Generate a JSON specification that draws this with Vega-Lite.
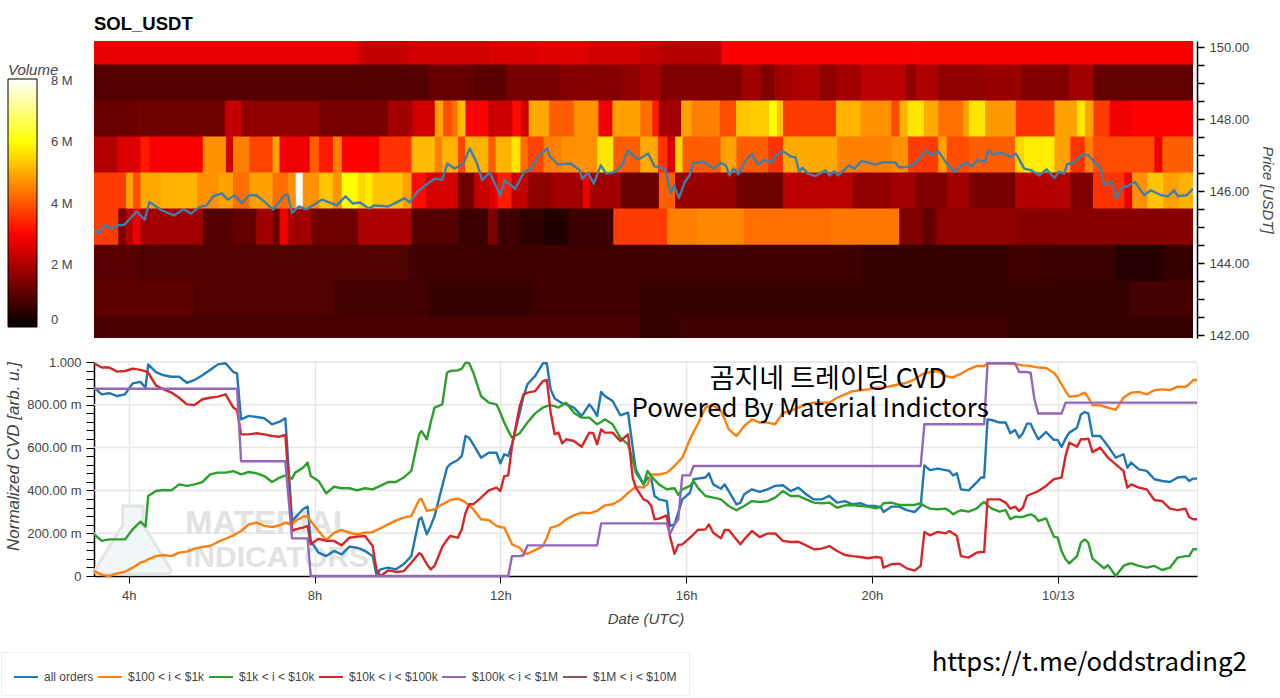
{
"$schema":"https://vega.github.io/schema/vega-lite/v6.json",
"background":"white",
"padding":{"left":0,"top":14,"right":2,"bottom":0},
"autosize":{"type":"pad"},
"config":{"font":"Liberation Sans","view":{"stroke":null}},
"datasets":{
"cells":[
{"h":3.25,"e":8.96,"p":149.5,"hi":150.17,"vol":2700000},{"h":8.96,"e":10,"p":149.5,"hi":150.17,"vol":2300000},{"h":10,"e":11.77,"p":149.5,"hi":150.17,"vol":2450000},{"h":11.77,"e":12.82,"p":149.5,"hi":150.17,"vol":2550000},{"h":12.82,"e":13.88,"p":149.5,"hi":150.17,"vol":2650000},{"h":13.88,"e":15,"p":149.5,"hi":150.17,"vol":2450000},{"h":15,"e":15.44,"p":149.5,"hi":150.17,"vol":2300000},{"h":15.44,"e":16.75,"p":149.5,"hi":150.17,"vol":2150000},{"h":16.75,"e":21,"p":149.5,"hi":150.17,"vol":2950000},{"h":21,"e":26.89,"p":149.5,"hi":150.17,"vol":2900000},
{"h":3.25,"e":10.45,"p":148.5,"hi":149.5,"vol":1000000},{"h":10.45,"e":11.42,"p":148.5,"hi":149.5,"vol":1200000},{"h":11.42,"e":12.12,"p":148.5,"hi":149.5,"vol":1050000},{"h":12.12,"e":13.26,"p":148.5,"hi":149.5,"vol":1400000},{"h":13.26,"e":14.58,"p":148.5,"hi":149.5,"vol":1550000},{"h":14.58,"e":15,"p":148.5,"hi":149.5,"vol":1700000},{"h":15,"e":15.44,"p":148.5,"hi":149.5,"vol":1900000},{"h":15.44,"e":17.19,"p":148.5,"hi":149.5,"vol":1500000},{"h":17.19,"e":17.59,"p":148.5,"hi":149.5,"vol":1900000},{"h":17.59,"e":17.9,"p":148.5,"hi":149.5,"vol":1500000},{"h":17.9,"e":18.25,"p":148.5,"hi":149.5,"vol":1900000},{"h":18.25,"e":18.86,"p":148.5,"hi":149.5,"vol":2050000},{"h":18.86,"e":19.21,"p":148.5,"hi":149.5,"vol":1700000},{"h":19.21,"e":19.74,"p":148.5,"hi":149.5,"vol":1900000},{"h":19.74,"e":20.71,"p":148.5,"hi":149.5,"vol":2200000},{"h":20.71,"e":20.93,"p":148.5,"hi":149.5,"vol":1700000},{"h":20.93,"e":21.41,"p":148.5,"hi":149.5,"vol":2050000},{"h":21.41,"e":22.37,"p":148.5,"hi":149.5,"vol":1700000},{"h":22.37,"e":23.21,"p":148.5,"hi":149.5,"vol":1800000},{"h":23.21,"e":24.22,"p":148.5,"hi":149.5,"vol":1500000},{"h":24.22,"e":24.75,"p":148.5,"hi":149.5,"vol":1900000},{"h":24.75,"e":26.89,"p":148.5,"hi":149.5,"vol":1150000},
{"h":3.25,"e":4.22,"p":147.5,"hi":148.5,"vol":1250000},{"h":4.22,"e":6.06,"p":147.5,"hi":148.5,"vol":1300000},{"h":6.06,"e":6.41,"p":147.5,"hi":148.5,"vol":2300000},{"h":6.41,"e":8.08,"p":147.5,"hi":148.5,"vol":1700000},{"h":8.08,"e":9.57,"p":147.5,"hi":148.5,"vol":1400000},{"h":9.57,"e":10.1,"p":147.5,"hi":148.5,"vol":1900000},{"h":10.1,"e":10.58,"p":147.5,"hi":148.5,"vol":2450000},{"h":10.58,"e":10.76,"p":147.5,"hi":148.5,"vol":4900000},{"h":10.76,"e":10.94,"p":147.5,"hi":148.5,"vol":3900000},{"h":10.94,"e":11.07,"p":147.5,"hi":148.5,"vol":4300000},{"h":11.07,"e":11.24,"p":147.5,"hi":148.5,"vol":5200000},{"h":11.24,"e":11.73,"p":147.5,"hi":148.5,"vol":3000000},{"h":11.73,"e":12.25,"p":147.5,"hi":148.5,"vol":2400000},{"h":12.25,"e":12.43,"p":147.5,"hi":148.5,"vol":3100000},{"h":12.43,"e":12.6,"p":147.5,"hi":148.5,"vol":2400000},{"h":12.6,"e":13.04,"p":147.5,"hi":148.5,"vol":5000000},{"h":13.04,"e":13.57,"p":147.5,"hi":148.5,"vol":4100000},{"h":13.57,"e":14.1,"p":147.5,"hi":148.5,"vol":4700000},{"h":14.1,"e":14.4,"p":147.5,"hi":148.5,"vol":2800000},{"h":14.4,"e":15,"p":147.5,"hi":148.5,"vol":4900000},{"h":15,"e":15.26,"p":147.5,"hi":148.5,"vol":4300000},{"h":15.26,"e":15.4,"p":147.5,"hi":148.5,"vol":3300000},{"h":15.4,"e":15.88,"p":147.5,"hi":148.5,"vol":1900000},{"h":15.88,"e":16.1,"p":147.5,"hi":148.5,"vol":4900000},{"h":16.1,"e":16.71,"p":147.5,"hi":148.5,"vol":4500000},{"h":16.71,"e":17.06,"p":147.5,"hi":148.5,"vol":3900000},{"h":17.06,"e":17.37,"p":147.5,"hi":148.5,"vol":5300000},{"h":17.37,"e":17.77,"p":147.5,"hi":148.5,"vol":5400000},{"h":17.77,"e":17.94,"p":147.5,"hi":148.5,"vol":6000000},{"h":17.94,"e":18.07,"p":147.5,"hi":148.5,"vol":5300000},{"h":18.07,"e":19.21,"p":147.5,"hi":148.5,"vol":3700000},{"h":19.21,"e":19.74,"p":147.5,"hi":148.5,"vol":5100000},{"h":19.74,"e":20.4,"p":147.5,"hi":148.5,"vol":4700000},{"h":20.4,"e":20.58,"p":147.5,"hi":148.5,"vol":3900000},{"h":20.58,"e":20.75,"p":147.5,"hi":148.5,"vol":5100000},{"h":20.75,"e":21.1,"p":147.5,"hi":148.5,"vol":5700000},{"h":21.1,"e":21.41,"p":147.5,"hi":148.5,"vol":5000000},{"h":21.41,"e":21.94,"p":147.5,"hi":148.5,"vol":4300000},{"h":21.94,"e":22.07,"p":147.5,"hi":148.5,"vol":4900000},{"h":22.07,"e":22.42,"p":147.5,"hi":148.5,"vol":5700000},{"h":22.42,"e":23.08,"p":147.5,"hi":148.5,"vol":4800000},{"h":23.08,"e":23.91,"p":147.5,"hi":148.5,"vol":3600000},{"h":23.91,"e":24.39,"p":147.5,"hi":148.5,"vol":4900000},{"h":24.39,"e":24.57,"p":147.5,"hi":148.5,"vol":5700000},{"h":24.57,"e":24.75,"p":147.5,"hi":148.5,"vol":4900000},{"h":24.75,"e":25.1,"p":147.5,"hi":148.5,"vol":3700000},{"h":25.1,"e":25.58,"p":147.5,"hi":148.5,"vol":2800000},{"h":25.58,"e":26.89,"p":147.5,"hi":148.5,"vol":3000000},
{"h":3.25,"e":3.75,"p":146.5,"hi":147.5,"vol":2100000},{"h":3.75,"e":4.25,"p":146.5,"hi":147.5,"vol":2600000},{"h":4.25,"e":4.44,"p":146.5,"hi":147.5,"vol":3300000},{"h":4.44,"e":5.59,"p":146.5,"hi":147.5,"vol":2950000},{"h":5.59,"e":6.09,"p":146.5,"hi":147.5,"vol":4700000},{"h":6.09,"e":6.24,"p":146.5,"hi":147.5,"vol":2450000},{"h":6.24,"e":6.59,"p":146.5,"hi":147.5,"vol":4500000},{"h":6.59,"e":7.09,"p":146.5,"hi":147.5,"vol":3800000},{"h":7.09,"e":7.24,"p":146.5,"hi":147.5,"vol":4900000},{"h":7.24,"e":7.89,"p":146.5,"hi":147.5,"vol":2800000},{"h":7.89,"e":8.09,"p":146.5,"hi":147.5,"vol":4100000},{"h":8.09,"e":8.39,"p":146.5,"hi":147.5,"vol":3300000},{"h":8.39,"e":8.58,"p":146.5,"hi":147.5,"vol":4500000},{"h":8.58,"e":9.39,"p":146.5,"hi":147.5,"vol":3000000},{"h":9.39,"e":10.08,"p":146.5,"hi":147.5,"vol":3600000},{"h":10.08,"e":10.58,"p":146.5,"hi":147.5,"vol":5200000},{"h":10.58,"e":10.74,"p":146.5,"hi":147.5,"vol":4500000},{"h":10.74,"e":11.08,"p":146.5,"hi":147.5,"vol":5100000},{"h":11.08,"e":11.23,"p":146.5,"hi":147.5,"vol":3800000},{"h":11.23,"e":11.73,"p":146.5,"hi":147.5,"vol":5100000},{"h":11.73,"e":11.89,"p":146.5,"hi":147.5,"vol":4100000},{"h":11.89,"e":12.23,"p":146.5,"hi":147.5,"vol":5100000},{"h":12.23,"e":12.42,"p":146.5,"hi":147.5,"vol":5700000},{"h":12.42,"e":12.58,"p":146.5,"hi":147.5,"vol":4300000},{"h":12.58,"e":12.92,"p":146.5,"hi":147.5,"vol":3800000},{"h":12.92,"e":13.31,"p":146.5,"hi":147.5,"vol":4500000},{"h":13.31,"e":14.08,"p":146.5,"hi":147.5,"vol":4700000},{"h":14.08,"e":14.42,"p":146.5,"hi":147.5,"vol":5700000},{"h":14.42,"e":15,"p":146.5,"hi":147.5,"vol":4100000},{"h":15,"e":15.38,"p":146.5,"hi":147.5,"vol":5000000},{"h":15.38,"e":15.58,"p":146.5,"hi":147.5,"vol":3600000},{"h":15.58,"e":15.75,"p":146.5,"hi":147.5,"vol":2600000},{"h":15.75,"e":15.91,"p":146.5,"hi":147.5,"vol":5500000},{"h":15.91,"e":16.73,"p":146.5,"hi":147.5,"vol":4100000},{"h":16.73,"e":17.07,"p":146.5,"hi":147.5,"vol":4900000},{"h":17.07,"e":17.75,"p":146.5,"hi":147.5,"vol":4100000},{"h":17.75,"e":18.07,"p":146.5,"hi":147.5,"vol":3600000},{"h":18.07,"e":19.24,"p":146.5,"hi":147.5,"vol":5000000},{"h":19.24,"e":20.41,"p":146.5,"hi":147.5,"vol":4500000},{"h":20.41,"e":20.76,"p":146.5,"hi":147.5,"vol":4700000},{"h":20.76,"e":21.41,"p":146.5,"hi":147.5,"vol":3700000},{"h":21.41,"e":21.59,"p":146.5,"hi":147.5,"vol":4900000},{"h":21.59,"e":22.07,"p":146.5,"hi":147.5,"vol":3900000},{"h":22.07,"e":23.06,"p":146.5,"hi":147.5,"vol":4100000},{"h":23.06,"e":23.26,"p":146.5,"hi":147.5,"vol":5500000},{"h":23.26,"e":23.91,"p":146.5,"hi":147.5,"vol":5800000},{"h":23.91,"e":24.25,"p":146.5,"hi":147.5,"vol":4900000},{"h":24.25,"e":24.56,"p":146.5,"hi":147.5,"vol":3600000},{"h":24.56,"e":24.74,"p":146.5,"hi":147.5,"vol":4500000},{"h":24.74,"e":26.06,"p":146.5,"hi":147.5,"vol":3900000},{"h":26.06,"e":26.23,"p":146.5,"hi":147.5,"vol":2800000},{"h":26.23,"e":26.89,"p":146.5,"hi":147.5,"vol":4100000},
{"h":3.25,"e":3.94,"p":145.5,"hi":146.5,"vol":3700000},{"h":3.94,"e":4.09,"p":145.5,"hi":146.5,"vol":4900000},{"h":4.09,"e":4.25,"p":145.5,"hi":146.5,"vol":3900000},{"h":4.25,"e":4.71,"p":145.5,"hi":146.5,"vol":5000000},{"h":4.71,"e":5.47,"p":145.5,"hi":146.5,"vol":5100000},{"h":5.47,"e":5.93,"p":145.5,"hi":146.5,"vol":4700000},{"h":5.93,"e":6.24,"p":145.5,"hi":146.5,"vol":4900000},{"h":6.24,"e":6.59,"p":145.5,"hi":146.5,"vol":4300000},{"h":6.59,"e":7.09,"p":145.5,"hi":146.5,"vol":4900000},{"h":7.09,"e":7.43,"p":145.5,"hi":146.5,"vol":4300000},{"h":7.43,"e":7.59,"p":145.5,"hi":146.5,"vol":4700000},{"h":7.59,"e":7.74,"p":145.5,"hi":146.5,"vol":8050000},{"h":7.74,"e":8.09,"p":145.5,"hi":146.5,"vol":4700000},{"h":8.09,"e":8.39,"p":145.5,"hi":146.5,"vol":5300000},{"h":8.39,"e":8.58,"p":145.5,"hi":146.5,"vol":4700000},{"h":8.58,"e":8.93,"p":145.5,"hi":146.5,"vol":6000000},{"h":8.93,"e":9.08,"p":145.5,"hi":146.5,"vol":5500000},{"h":9.08,"e":9.24,"p":145.5,"hi":146.5,"vol":5800000},{"h":9.24,"e":9.89,"p":145.5,"hi":146.5,"vol":5300000},{"h":9.89,"e":10.08,"p":145.5,"hi":146.5,"vol":4900000},{"h":10.08,"e":10.39,"p":145.5,"hi":146.5,"vol":3100000},{"h":10.39,"e":11.08,"p":145.5,"hi":146.5,"vol":2500000},{"h":11.08,"e":11.43,"p":145.5,"hi":146.5,"vol":1300000},{"h":11.43,"e":11.77,"p":145.5,"hi":146.5,"vol":2350000},{"h":11.77,"e":11.93,"p":145.5,"hi":146.5,"vol":2600000},{"h":11.93,"e":12.23,"p":145.5,"hi":146.5,"vol":3300000},{"h":12.23,"e":12.58,"p":145.5,"hi":146.5,"vol":2300000},{"h":12.58,"e":13.08,"p":145.5,"hi":146.5,"vol":1700000},{"h":13.08,"e":13.77,"p":145.5,"hi":146.5,"vol":1900000},{"h":13.77,"e":13.92,"p":145.5,"hi":146.5,"vol":2800000},{"h":13.92,"e":14.58,"p":145.5,"hi":146.5,"vol":1900000},{"h":14.58,"e":15.4,"p":145.5,"hi":146.5,"vol":1250000},{"h":15.4,"e":15.75,"p":145.5,"hi":146.5,"vol":4100000},{"h":15.75,"e":17.07,"p":145.5,"hi":146.5,"vol":1800000},{"h":17.07,"e":18.07,"p":145.5,"hi":146.5,"vol":1300000},{"h":18.07,"e":19.57,"p":145.5,"hi":146.5,"vol":2200000},{"h":19.57,"e":20.38,"p":145.5,"hi":146.5,"vol":1700000},{"h":20.38,"e":20.91,"p":145.5,"hi":146.5,"vol":1900000},{"h":20.91,"e":21.59,"p":145.5,"hi":146.5,"vol":1500000},{"h":21.59,"e":22.07,"p":145.5,"hi":146.5,"vol":1900000},{"h":22.07,"e":23.06,"p":145.5,"hi":146.5,"vol":1400000},{"h":23.06,"e":24.25,"p":145.5,"hi":146.5,"vol":2100000},{"h":24.25,"e":24.74,"p":145.5,"hi":146.5,"vol":1500000},{"h":24.74,"e":25.41,"p":145.5,"hi":146.5,"vol":3600000},{"h":25.41,"e":25.58,"p":145.5,"hi":146.5,"vol":2800000},{"h":25.58,"e":25.91,"p":145.5,"hi":146.5,"vol":4700000},{"h":25.91,"e":26.25,"p":145.5,"hi":146.5,"vol":5300000},{"h":26.25,"e":26.6,"p":145.5,"hi":146.5,"vol":4900000},{"h":26.6,"e":26.89,"p":145.5,"hi":146.5,"vol":5100000},
{"h":3.25,"e":3.77,"p":144.5,"hi":145.5,"vol":3700000},{"h":3.77,"e":3.94,"p":144.5,"hi":145.5,"vol":1500000},{"h":3.94,"e":4.09,"p":144.5,"hi":145.5,"vol":2100000},{"h":4.09,"e":4.25,"p":144.5,"hi":145.5,"vol":2800000},{"h":4.25,"e":5.59,"p":144.5,"hi":145.5,"vol":1900000},{"h":5.59,"e":6.24,"p":144.5,"hi":145.5,"vol":1000000},{"h":6.24,"e":6.74,"p":144.5,"hi":145.5,"vol":1150000},{"h":6.74,"e":7.09,"p":144.5,"hi":145.5,"vol":1900000},{"h":7.09,"e":7.24,"p":144.5,"hi":145.5,"vol":1300000},{"h":7.24,"e":7.43,"p":144.5,"hi":145.5,"vol":2800000},{"h":7.43,"e":7.93,"p":144.5,"hi":145.5,"vol":1900000},{"h":7.93,"e":8.93,"p":144.5,"hi":145.5,"vol":1300000},{"h":8.93,"e":10.08,"p":144.5,"hi":145.5,"vol":2000000},{"h":10.08,"e":11.08,"p":144.5,"hi":145.5,"vol":1000000},{"h":11.08,"e":11.73,"p":144.5,"hi":145.5,"vol":700000},{"h":11.73,"e":11.93,"p":144.5,"hi":145.5,"vol":1500000},{"h":11.93,"e":12.42,"p":144.5,"hi":145.5,"vol":750000},{"h":12.42,"e":12.92,"p":144.5,"hi":145.5,"vol":550000},{"h":12.92,"e":13.46,"p":144.5,"hi":145.5,"vol":400000},{"h":13.46,"e":14.42,"p":144.5,"hi":145.5,"vol":700000},{"h":14.42,"e":15.58,"p":144.5,"hi":145.5,"vol":3700000},{"h":15.58,"e":16.23,"p":144.5,"hi":145.5,"vol":4500000},{"h":16.23,"e":17.23,"p":144.5,"hi":145.5,"vol":4600000},{"h":17.23,"e":19.07,"p":144.5,"hi":145.5,"vol":4300000},{"h":19.07,"e":20.57,"p":144.5,"hi":145.5,"vol":4400000},{"h":20.57,"e":21.07,"p":144.5,"hi":145.5,"vol":1500000},{"h":21.07,"e":21.37,"p":144.5,"hi":145.5,"vol":1150000},{"h":21.37,"e":23.06,"p":144.5,"hi":145.5,"vol":1700000},{"h":23.06,"e":26.89,"p":144.5,"hi":145.5,"vol":1600000},
{"h":3.25,"e":4.22,"p":143.5,"hi":144.5,"vol":1050000},{"h":4.22,"e":10.01,"p":143.5,"hi":144.5,"vol":950000},{"h":10.01,"e":19.74,"p":143.5,"hi":144.5,"vol":750000},{"h":19.74,"e":22.9,"p":143.5,"hi":144.5,"vol":650000},{"h":22.9,"e":23.78,"p":143.5,"hi":144.5,"vol":750000},{"h":23.78,"e":25.23,"p":143.5,"hi":144.5,"vol":700000},{"h":25.23,"e":26.28,"p":143.5,"hi":144.5,"vol":450000},{"h":26.28,"e":26.89,"p":143.5,"hi":144.5,"vol":650000},
{"h":3.25,"e":5.36,"p":142.5,"hi":143.5,"vol":1100000},{"h":5.36,"e":8.43,"p":142.5,"hi":143.5,"vol":950000},{"h":8.43,"e":10.45,"p":142.5,"hi":143.5,"vol":800000},{"h":10.45,"e":12.65,"p":142.5,"hi":143.5,"vol":650000},{"h":12.65,"e":15,"p":142.5,"hi":143.5,"vol":750000},{"h":15,"e":16.05,"p":142.5,"hi":143.5,"vol":650000},{"h":16.05,"e":25.54,"p":142.5,"hi":143.5,"vol":640000},{"h":25.54,"e":26.89,"p":142.5,"hi":143.5,"vol":800000},
{"h":3.25,"e":15,"p":141.93,"hi":142.5,"vol":850000},{"h":15,"e":15.88,"p":141.93,"hi":142.5,"vol":650000},{"h":15.88,"e":22.9,"p":141.93,"hi":142.5,"vol":750000},{"h":22.9,"e":26.89,"p":141.93,"hi":142.5,"vol":650000}
],
"price":[
{"h":3.26,"p":144.96},{"h":3.34,"p":144.82},{"h":3.49,"p":145.06},{"h":3.63,"p":144.96},{"h":3.75,"p":145.06},{"h":3.9,"p":145.07},{"h":4.17,"p":145.44},{"h":4.34,"p":145.21},{"h":4.44,"p":145.7},{"h":4.71,"p":145.47},{"h":4.97,"p":145.33},{"h":5.18,"p":145.5},{"h":5.34,"p":145.38},{"h":5.51,"p":145.56},{"h":5.67,"p":145.61},{"h":5.82,"p":145.87},{"h":6,"p":145.94},{"h":6.13,"p":145.77},{"h":6.28,"p":145.89},{"h":6.43,"p":145.66},{"h":6.59,"p":145.89},{"h":6.74,"p":145.89},{"h":6.93,"p":145.7},{"h":7.1,"p":145.49},{"h":7.36,"p":145.91},{"h":7.42,"p":145.89},{"h":7.51,"p":145.4},{"h":7.66,"p":145.58},{"h":7.82,"p":145.5},{"h":8.16,"p":145.77},{"h":8.47,"p":145.61},{"h":8.66,"p":145.86},{"h":8.82,"p":145.66},{"h":8.97,"p":145.69},{"h":9.16,"p":145.52},{"h":9.28,"p":145.61},{"h":9.58,"p":145.58},{"h":9.74,"p":145.68},{"h":9.93,"p":145.81},{"h":10.04,"p":145.69},{"h":10.2,"p":145.98},{"h":10.35,"p":146.14},{"h":10.58,"p":146.35},{"h":10.74,"p":146.32},{"h":10.85,"p":146.77},{"h":11,"p":146.63},{"h":11.2,"p":146.77},{"h":11.33,"p":147.19},{"h":11.48,"p":146.81},{"h":11.6,"p":146.31},{"h":11.76,"p":146.52},{"h":11.99,"p":145.89},{"h":12.08,"p":146.31},{"h":12.31,"p":146.07},{"h":12.5,"p":146.54},{"h":12.66,"p":146.63},{"h":12.77,"p":146.91},{"h":13,"p":147.19},{"h":13.04,"p":147},{"h":13.23,"p":146.74},{"h":13.5,"p":146.77},{"h":13.69,"p":146.6},{"h":13.75,"p":146.35},{"h":13.88,"p":146.51},{"h":14,"p":146.21},{"h":14.15,"p":146.72},{"h":14.27,"p":146.49},{"h":14.46,"p":146.54},{"h":14.61,"p":146.72},{"h":14.73,"p":147.14},{"h":14.92,"p":146.91},
{"h":15,"p":146.91},{"h":15.17,"p":147.05},{"h":15.31,"p":146.69},{"h":15.4,"p":146.68},{"h":15.55,"p":146.58},{"h":15.65,"p":145.94},{"h":15.73,"p":146.17},{"h":15.83,"p":145.81},{"h":15.96,"p":146.26},{"h":16.06,"p":146.44},{"h":16.15,"p":146.79},{"h":16.34,"p":146.83},{"h":16.46,"p":146.74},{"h":16.57,"p":146.63},{"h":16.73,"p":146.79},{"h":16.84,"p":146.72},{"h":16.92,"p":146.44},{"h":17.01,"p":146.63},{"h":17.11,"p":146.47},{"h":17.27,"p":146.86},{"h":17.4,"p":147.03},{"h":17.53,"p":146.74},{"h":17.67,"p":146.88},{"h":17.83,"p":146.79},{"h":17.92,"p":147},{"h":18.07,"p":147.11},{"h":18.23,"p":146.97},{"h":18.34,"p":146.94},{"h":18.42,"p":146.54},{"h":18.49,"p":146.65},{"h":18.61,"p":146.49},{"h":18.76,"p":146.42},{"h":18.99,"p":146.58},{"h":19.07,"p":146.44},{"h":19.17,"p":146.56},{"h":19.26,"p":146.44},{"h":19.49,"p":146.72},{"h":19.61,"p":146.63},{"h":19.76,"p":146.84},{"h":20.07,"p":146.74},{"h":20.22,"p":146.81},{"h":20.49,"p":146.8},{"h":20.57,"p":146.66},{"h":20.76,"p":146.68},{"h":20.91,"p":146.77},{"h":21.14,"p":147.14},{"h":21.26,"p":147},{"h":21.41,"p":147.12},{"h":21.57,"p":146.81},{"h":21.76,"p":146.54},{"h":21.99,"p":146.8},{"h":22.14,"p":146.69},{"h":22.26,"p":146.88},{"h":22.41,"p":146.81},{"h":22.49,"p":147.14},{"h":22.57,"p":147.03},{"h":22.76,"p":147.07},{"h":22.99,"p":146.95},{"h":23.08,"p":147.05},{"h":23.26,"p":146.63},{"h":23.41,"p":146.58},{"h":23.59,"p":146.44},{"h":23.74,"p":146.61},{"h":23.91,"p":146.37},{"h":24,"p":146.54},{"h":24.12,"p":146.49},{"h":24.18,"p":146.75},{"h":24.33,"p":146.8},{"h":24.51,"p":147.03},{"h":24.64,"p":147},{"h":24.79,"p":146.77},{"h":24.89,"p":146.68},{"h":24.98,"p":146.17},{"h":25.14,"p":146.28},{"h":25.24,"p":145.8},{"h":25.37,"p":146.12},{"h":25.48,"p":146.14},{"h":25.64,"p":146.26},{"h":25.84,"p":145.89},{"h":25.98,"p":146.03},{"h":26.21,"p":145.89},{"h":26.35,"p":145.86},{"h":26.48,"p":146.03},{"h":26.56,"p":145.87},{"h":26.75,"p":145.89},{"h":26.89,"p":146.07}
],
"cvd":[
{"h":3.25,"all":0.88,"k1":0.023,"k10":0.195,"k100":0.994,"m1":0.875},{"h":3.417,"all":0.849,"k1":0.005,"k10":0.164,"k100":0.974,"m1":0.875},{"h":3.583,"all":0.854,"k1":0,"k10":0.171,"k100":0.974,"m1":0.875},{"h":3.75,"all":0.841,"k1":0.012,"k10":0.171,"k100":0.955,"m1":0.875},{"h":3.917,"all":0.849,"k1":0.02,"k10":0.171,"k100":0.958,"m1":0.875},{"h":4.083,"all":0.9,"k1":0.039,"k10":0.218,"k100":0.969,"m1":0.875},{"h":4.25,"all":0.907,"k1":0.062,"k10":0.254,"k100":0.963,"m1":0.875},{"h":4.36,"all":0.88,"k1":0.07,"k10":0.231,"k100":0.956,"m1":0.875},{"h":4.417,"all":0.989,"k1":0.078,"k10":0.374,"k100":0.95,"m1":0.875},{"h":4.583,"all":0.953,"k1":0.093,"k10":0.397,"k100":0.891,"m1":0.875},{"h":4.75,"all":0.938,"k1":0.098,"k10":0.402,"k100":0.872,"m1":0.875},{"h":4.917,"all":0.931,"k1":0.093,"k10":0.4,"k100":0.857,"m1":0.875},{"h":5.083,"all":0.931,"k1":0.109,"k10":0.428,"k100":0.833,"m1":0.875},{"h":5.25,"all":0.903,"k1":0.114,"k10":0.421,"k100":0.802,"m1":0.875},{"h":5.417,"all":0.916,"k1":0.128,"k10":0.428,"k100":0.799,"m1":0.875},{"h":5.583,"all":0.938,"k1":0.136,"k10":0.439,"k100":0.826,"m1":0.875},{"h":5.75,"all":0.963,"k1":0.14,"k10":0.475,"k100":0.833,"m1":0.875},{"h":5.917,"all":0.989,"k1":0.159,"k10":0.483,"k100":0.838,"m1":0.875},{"h":6.083,"all":0.994,"k1":0.174,"k10":0.483,"k100":0.849,"m1":0.875},{"h":6.25,"all":0.953,"k1":0.19,"k10":0.49,"k100":0.787,"m1":0.875},{"h":6.33,"all":0.947,"k1":0.2,"k10":0.483,"k100":0.776,"m1":0.875},{"h":6.417,"all":0.732,"k1":0.21,"k10":0.475,"k100":0.662,"m1":0.536},{"h":6.583,"all":0.748,"k1":0.241,"k10":0.486,"k100":0.662,"m1":0.536},{"h":6.75,"all":0.743,"k1":0.249,"k10":0.48,"k100":0.667,"m1":0.536},{"h":6.917,"all":0.737,"k1":0.234,"k10":0.467,"k100":0.662,"m1":0.536},{"h":7.083,"all":0.709,"k1":0.229,"k10":0.439,"k100":0.654,"m1":0.536},{"h":7.25,"all":0.721,"k1":0.237,"k10":0.46,"k100":0.651,"m1":0.536},{"h":7.37,"all":0.737,"k1":0.249,"k10":0.47,"k100":0.66,"m1":0.536},{"h":7.514,"all":0.257,"k1":0.241,"k10":0.455,"k100":0.21,"m1":0.176},{"h":7.583,"all":0.273,"k1":0.257,"k10":0.483,"k100":0.218,"m1":0.176},{"h":7.75,"all":0.312,"k1":0.277,"k10":0.506,"k100":0.226,"m1":0.176},{"h":7.85,"all":0.324,"k1":0.28,"k10":0.53,"k100":0.234,"m1":0.176},{"h":7.917,"all":0.164,"k1":0.257,"k10":0.467,"k100":0.148,"m1":0},{"h":8.083,"all":0.109,"k1":0.21,"k10":0.444,"k100":0.174,"m1":0},{"h":8.25,"all":0.093,"k1":0.168,"k10":0.386,"k100":0.164,"m1":0},{"h":8.417,"all":0.117,"k1":0.202,"k10":0.417,"k100":0.164,"m1":0},{"h":8.583,"all":0.101,"k1":0.215,"k10":0.41,"k100":0.143,"m1":0},{"h":8.75,"all":0.137,"k1":0.202,"k10":0.41,"k100":0.179,"m1":0},{"h":8.917,"all":0.132,"k1":0.195,"k10":0.4,"k100":0.184,"m1":0},{"h":9.083,"all":0.117,"k1":0.202,"k10":0.41,"k100":0.187,"m1":0},{"h":9.25,"all":0.093,"k1":0.205,"k10":0.405,"k100":0.14,"m1":0},
{"h":9.33,"all":0.008,"k1":0.215,"k10":0.413,"k100":0.031,"m1":0},{"h":9.417,"all":0.031,"k1":0.223,"k10":0.421,"k100":0,"m1":0},{"h":9.583,"all":0.039,"k1":0.241,"k10":0.439,"k100":0.026,"m1":0},{"h":9.75,"all":0.031,"k1":0.259,"k10":0.439,"k100":0.019,"m1":0},{"h":9.917,"all":0.055,"k1":0.273,"k10":0.46,"k100":0.023,"m1":0},{"h":10.083,"all":0.093,"k1":0.28,"k10":0.491,"k100":0.062,"m1":0},{"h":10.25,"all":0.265,"k1":0.355,"k10":0.662,"k100":0.106,"m1":0},{"h":10.3,"all":0.273,"k1":0.361,"k10":0.678,"k100":0.101,"m1":0},{"h":10.417,"all":0.195,"k1":0.304,"k10":0.639,"k100":0.055,"m1":0},{"h":10.5,"all":0.234,"k1":0.308,"k10":0.717,"k100":0.031,"m1":0},{"h":10.583,"all":0.28,"k1":0.312,"k10":0.787,"k100":0.047,"m1":0},{"h":10.75,"all":0.421,"k1":0.335,"k10":0.802,"k100":0.137,"m1":0},{"h":10.85,"all":0.506,"k1":0.346,"k10":0.95,"k100":0.168,"m1":0},{"h":10.917,"all":0.522,"k1":0.355,"k10":0.958,"k100":0.187,"m1":0},{"h":11.083,"all":0.542,"k1":0.361,"k10":0.961,"k100":0.179,"m1":0},{"h":11.17,"all":0.561,"k1":0.355,"k10":0.969,"k100":0.218,"m1":0},{"h":11.25,"all":0.654,"k1":0.343,"k10":0.997,"k100":0.296,"m1":0},{"h":11.33,"all":0.646,"k1":0.33,"k10":0.994,"k100":0.335,"m1":0},{"h":11.417,"all":0.615,"k1":0.312,"k10":0.95,"k100":0.335,"m1":0},{"h":11.583,"all":0.553,"k1":0.265,"k10":0.841,"k100":0.366,"m1":0},{"h":11.75,"all":0.576,"k1":0.262,"k10":0.81,"k100":0.4,"m1":0},{"h":11.917,"all":0.576,"k1":0.234,"k10":0.802,"k100":0.413,"m1":0},{"h":12,"all":0.526,"k1":0.229,"k10":0.763,"k100":0.397,"m1":0},{"h":12.083,"all":0.569,"k1":0.226,"k10":0.717,"k100":0.467,"m1":0},{"h":12.17,"all":0.561,"k1":0.187,"k10":0.678,"k100":0.47,"m1":0},{"h":12.25,"all":0.615,"k1":0.148,"k10":0.646,"k100":0.607,"m1":0.093},{"h":12.417,"all":0.763,"k1":0.132,"k10":0.667,"k100":0.794,"m1":0.093},{"h":12.5,"all":0.841,"k1":0.109,"k10":0.693,"k100":0.849,"m1":0.097},{"h":12.583,"all":0.896,"k1":0.104,"k10":0.717,"k100":0.857,"m1":0.143},{"h":12.75,"all":0.935,"k1":0.121,"k10":0.76,"k100":0.864,"m1":0.143},{"h":12.917,"all":0.994,"k1":0.14,"k10":0.787,"k100":0.911,"m1":0.143},{"h":13,"all":0.994,"k1":0.179,"k10":0.794,"k100":0.916,"m1":0.143},{"h":13.083,"all":0.872,"k1":0.226,"k10":0.798,"k100":0.763,"m1":0.143},{"h":13.17,"all":0.829,"k1":0.231,"k10":0.794,"k100":0.662,"m1":0.143},{"h":13.25,"all":0.818,"k1":0.237,"k10":0.787,"k100":0.67,"m1":0.143},{"h":13.33,"all":0.807,"k1":0.249,"k10":0.798,"k100":0.62,"m1":0.143},{"h":13.417,"all":0.802,"k1":0.265,"k10":0.81,"k100":0.639,"m1":0.143},{"h":13.583,"all":0.787,"k1":0.283,"k10":0.763,"k100":0.631,"m1":0.143},{"h":13.75,"all":0.748,"k1":0.296,"k10":0.74,"k100":0.604,"m1":0.143},{"h":13.917,"all":0.802,"k1":0.293,"k10":0.74,"k100":0.67,"m1":0.143},{"h":14,"all":0.779,"k1":0.299,"k10":0.724,"k100":0.667,"m1":0.143},{"h":14.083,"all":0.748,"k1":0.304,"k10":0.709,"k100":0.615,"m1":0.143},{"h":14.17,"all":0.86,"k1":0.319,"k10":0.72,"k100":0.685,"m1":0.246},{"h":14.25,"all":0.841,"k1":0.33,"k10":0.732,"k100":0.67,"m1":0.246},{"h":14.417,"all":0.818,"k1":0.335,"k10":0.709,"k100":0.67,"m1":0.246},{"h":14.583,"all":0.751,"k1":0.355,"k10":0.646,"k100":0.631,"m1":0.246},{"h":14.75,"all":0.763,"k1":0.389,"k10":0.615,"k100":0.662,"m1":0.246},{"h":14.85,"all":0.6,"k1":0.405,"k10":0.545,"k100":0.46,"m1":0.246},{"h":14.917,"all":0.498,"k1":0.417,"k10":0.483,"k100":0.413,"m1":0.246},{"h":15.083,"all":0.428,"k1":0.413,"k10":0.428,"k100":0.358,"m1":0.246},{"h":15.17,"all":0.46,"k1":0.428,"k10":0.491,"k100":0.35,"m1":0.246},
{"h":15.25,"all":0.452,"k1":0.474,"k10":0.467,"k100":0.327,"m1":0.246},{"h":15.32,"all":0.374,"k1":0.474,"k10":0.449,"k100":0.265,"m1":0.246},{"h":15.417,"all":0.358,"k1":0.474,"k10":0.428,"k100":0.268,"m1":0.246},{"h":15.583,"all":0.35,"k1":0.483,"k10":0.405,"k100":0.283,"m1":0.246},{"h":15.65,"all":0.234,"k1":0.495,"k10":0.408,"k100":0.187,"m1":0.195},{"h":15.75,"all":0.241,"k1":0.514,"k10":0.41,"k100":0.104,"m1":0.241},{"h":15.83,"all":0.296,"k1":0.533,"k10":0.379,"k100":0.145,"m1":0.265},{"h":15.917,"all":0.358,"k1":0.553,"k10":0.405,"k100":0.148,"m1":0.47},{"h":16.083,"all":0.389,"k1":0.639,"k10":0.421,"k100":0.179,"m1":0.47},{"h":16.16,"all":0.452,"k1":0.673,"k10":0.444,"k100":0.195,"m1":0.514},{"h":16.25,"all":0.455,"k1":0.709,"k10":0.413,"k100":0.215,"m1":0.514},{"h":16.417,"all":0.46,"k1":0.787,"k10":0.374,"k100":0.218,"m1":0.514},{"h":16.49,"all":0.48,"k1":0.794,"k10":0.371,"k100":0.241,"m1":0.514},{"h":16.583,"all":0.428,"k1":0.798,"k10":0.366,"k100":0.202,"m1":0.514},{"h":16.75,"all":0.408,"k1":0.771,"k10":0.358,"k100":0.176,"m1":0.514},{"h":16.83,"all":0.428,"k1":0.732,"k10":0.343,"k100":0.215,"m1":0.514},{"h":16.917,"all":0.397,"k1":0.685,"k10":0.327,"k100":0.215,"m1":0.514},{"h":17.083,"all":0.335,"k1":0.654,"k10":0.307,"k100":0.171,"m1":0.514},{"h":17.17,"all":0.343,"k1":0.678,"k10":0.318,"k100":0.148,"m1":0.514},{"h":17.25,"all":0.382,"k1":0.701,"k10":0.327,"k100":0.171,"m1":0.514},{"h":17.417,"all":0.405,"k1":0.732,"k10":0.35,"k100":0.21,"m1":0.514},{"h":17.583,"all":0.393,"k1":0.717,"k10":0.346,"k100":0.182,"m1":0.514},{"h":17.75,"all":0.405,"k1":0.717,"k10":0.35,"k100":0.198,"m1":0.514},{"h":17.917,"all":0.421,"k1":0.709,"k10":0.366,"k100":0.199,"m1":0.514},{"h":18.083,"all":0.424,"k1":0.763,"k10":0.397,"k100":0.164,"m1":0.514},{"h":18.25,"all":0.397,"k1":0.771,"k10":0.374,"k100":0.159,"m1":0.514},{"h":18.417,"all":0.413,"k1":0.787,"k10":0.374,"k100":0.16,"m1":0.514},{"h":18.583,"all":0.382,"k1":0.802,"k10":0.358,"k100":0.143,"m1":0.514},{"h":18.75,"all":0.358,"k1":0.81,"k10":0.343,"k100":0.125,"m1":0.514},{"h":18.917,"all":0.358,"k1":0.81,"k10":0.34,"k100":0.128,"m1":0.514},{"h":19.083,"all":0.374,"k1":0.81,"k10":0.343,"k100":0.14,"m1":0.514},{"h":19.25,"all":0.343,"k1":0.833,"k10":0.319,"k100":0.117,"m1":0.514},{"h":19.417,"all":0.35,"k1":0.849,"k10":0.33,"k100":0.098,"m1":0.514},{"h":19.583,"all":0.335,"k1":0.864,"k10":0.332,"k100":0.093,"m1":0.514},{"h":19.75,"all":0.34,"k1":0.868,"k10":0.327,"k100":0.089,"m1":0.514},{"h":19.917,"all":0.327,"k1":0.872,"k10":0.324,"k100":0.083,"m1":0.514},{"h":20.083,"all":0.327,"k1":0.88,"k10":0.316,"k100":0.089,"m1":0.514},{"h":20.2,"all":0.319,"k1":0.88,"k10":0.327,"k100":0.086,"m1":0.514},{"h":20.25,"all":0.299,"k1":0.88,"k10":0.34,"k100":0.039,"m1":0.514},{"h":20.417,"all":0.324,"k1":0.888,"k10":0.343,"k100":0.055,"m1":0.514},{"h":20.583,"all":0.324,"k1":0.896,"k10":0.332,"k100":0.058,"m1":0.514},{"h":20.75,"all":0.308,"k1":0.903,"k10":0.332,"k100":0.036,"m1":0.514},{"h":20.917,"all":0.299,"k1":0.919,"k10":0.332,"k100":0.025,"m1":0.514},{"h":21.05,"all":0.327,"k1":0.938,"k10":0.34,"k100":0.047,"m1":0.514},
{"h":21.13,"all":0.517,"k1":0.947,"k10":0.327,"k100":0.206,"m1":0.709},{"h":21.25,"all":0.495,"k1":0.953,"k10":0.315,"k100":0.19,"m1":0.709},{"h":21.417,"all":0.502,"k1":0.958,"k10":0.312,"k100":0.206,"m1":0.709},{"h":21.583,"all":0.495,"k1":0.935,"k10":0.315,"k100":0.199,"m1":0.709},{"h":21.67,"all":0.491,"k1":0.93,"k10":0.304,"k100":0.21,"m1":0.709},{"h":21.75,"all":0.47,"k1":0.927,"k10":0.288,"k100":0.199,"m1":0.709},{"h":21.83,"all":0.48,"k1":0.938,"k10":0.299,"k100":0.187,"m1":0.709},{"h":21.917,"all":0.405,"k1":0.945,"k10":0.307,"k100":0.093,"m1":0.709},{"h":22.083,"all":0.4,"k1":0.966,"k10":0.301,"k100":0.086,"m1":0.709},{"h":22.25,"all":0.436,"k1":0.981,"k10":0.315,"k100":0.109,"m1":0.709},{"h":22.35,"all":0.46,"k1":0.981,"k10":0.335,"k100":0.112,"m1":0.709},{"h":22.417,"all":0.46,"k1":0.981,"k10":0.346,"k100":0.112,"m1":0.709},{"h":22.49,"all":0.732,"k1":0.994,"k10":0.33,"k100":0.358,"m1":0.994},{"h":22.583,"all":0.729,"k1":0.994,"k10":0.315,"k100":0.358,"m1":0.994},{"h":22.75,"all":0.717,"k1":0.994,"k10":0.301,"k100":0.358,"m1":0.994},{"h":22.88,"all":0.717,"k1":0.994,"k10":0.308,"k100":0.343,"m1":0.994},{"h":22.98,"all":0.667,"k1":0.992,"k10":0.265,"k100":0.315,"m1":0.994},{"h":23.083,"all":0.682,"k1":0.989,"k10":0.277,"k100":0.324,"m1":0.994},{"h":23.17,"all":0.646,"k1":0.988,"k10":0.276,"k100":0.304,"m1":0.953},{"h":23.25,"all":0.667,"k1":0.984,"k10":0.276,"k100":0.319,"m1":0.953},{"h":23.34,"all":0.712,"k1":0.983,"k10":0.283,"k100":0.374,"m1":0.953},{"h":23.417,"all":0.712,"k1":0.981,"k10":0.288,"k100":0.382,"m1":0.95},{"h":23.5,"all":0.673,"k1":0.977,"k10":0.28,"k100":0.389,"m1":0.826},{"h":23.583,"all":0.639,"k1":0.974,"k10":0.257,"k100":0.397,"m1":0.759},{"h":23.75,"all":0.673,"k1":0.972,"k10":0.269,"k100":0.421,"m1":0.759},{"h":23.917,"all":0.636,"k1":0.95,"k10":0.184,"k100":0.452,"m1":0.759},{"h":24,"all":0.636,"k1":0.927,"k10":0.179,"k100":0.456,"m1":0.759},{"h":24.083,"all":0.603,"k1":0.896,"k10":0.117,"k100":0.46,"m1":0.759},{"h":24.17,"all":0.642,"k1":0.864,"k10":0.078,"k100":0.561,"m1":0.81},{"h":24.25,"all":0.67,"k1":0.838,"k10":0.059,"k100":0.623,"m1":0.81},{"h":24.417,"all":0.693,"k1":0.841,"k10":0.093,"k100":0.604,"m1":0.81},{"h":24.5,"all":0.755,"k1":0.849,"k10":0.156,"k100":0.639,"m1":0.81},{"h":24.583,"all":0.766,"k1":0.857,"k10":0.171,"k100":0.639,"m1":0.81},{"h":24.66,"all":0.76,"k1":0.833,"k10":0.156,"k100":0.642,"m1":0.81},{"h":24.75,"all":0.654,"k1":0.798,"k10":0.081,"k100":0.579,"m1":0.81},{"h":24.917,"all":0.654,"k1":0.798,"k10":0.051,"k100":0.6,"m1":0.81},{"h":25,"all":0.631,"k1":0.791,"k10":0.036,"k100":0.576,"m1":0.81},{"h":25.083,"all":0.607,"k1":0.787,"k10":0.051,"k100":0.553,"m1":0.81},{"h":25.25,"all":0.553,"k1":0.776,"k10":0,"k100":0.522,"m1":0.81},{"h":25.417,"all":0.569,"k1":0.833,"k10":0.047,"k100":0.491,"m1":0.81},{"h":25.5,"all":0.506,"k1":0.846,"k10":0.055,"k100":0.413,"m1":0.81},{"h":25.583,"all":0.53,"k1":0.857,"k10":0.059,"k100":0.428,"m1":0.81},{"h":25.75,"all":0.498,"k1":0.86,"k10":0.047,"k100":0.413,"m1":0.81},{"h":25.917,"all":0.491,"k1":0.849,"k10":0.039,"k100":0.405,"m1":0.81},{"h":26.083,"all":0.452,"k1":0.868,"k10":0.047,"k100":0.355,"m1":0.81},{"h":26.25,"all":0.444,"k1":0.872,"k10":0.028,"k100":0.35,"m1":0.81},{"h":26.417,"all":0.439,"k1":0.869,"k10":0.039,"k100":0.315,"m1":0.81},{"h":26.583,"all":0.46,"k1":0.885,"k10":0.086,"k100":0.308,"m1":0.81},{"h":26.75,"all":0.464,"k1":0.883,"k10":0.093,"k100":0.315,"m1":0.81},{"h":26.83,"all":0.444,"k1":0.896,"k10":0.093,"k100":0.276,"m1":0.81},{"h":26.917,"all":0.455,"k1":0.916,"k10":0.125,"k100":0.265,"m1":0.81},{"h":27,"all":0.455,"k1":0.916,"k10":0.125,"k100":0.265,"m1":0.81}
]
},
"vconcat":[
{
"width":1099,"height":297,
"title":{"text":"SOL_USDT","anchor":"start","frame":"group","font":"Liberation Sans","fontSize":18.5,"fontWeight":"bold","color":"#000","offset":8},
"encoding":{
"x":{"field":"h","type":"quantitative","scale":{"domain":[3.25,26.89],"nice":false,"zero":false},"axis":null},
"y":{"field":"p","type":"quantitative","scale":{"domain":[141.93,150.17],"nice":false,"zero":false},
"axis":{"orient":"right","offset":4,"values":[142,142.5,143,143.5,144,144.5,145,145.5,146,146.5,147,147.5,148,148.5,149,149.5,150],"labelExpr":"datum.value%2==0?format(datum.value,'.2f'):''","labelOverlap":false,"title":"Price [USDT]","titleFontStyle":"italic","titleFontWeight":"normal","titleFontSize":15,"titleColor":"#444","titlePadding":11,"labelFontSize":13,"labelColor":"#444","tickColor":"#000","domainColor":"#000","domainWidth":1.5,"tickWidth":1.5,"tickSize":7,"grid":false,"labelPadding":5,"encoding":{"ticks":{"update":{"x2":{"signal":"datum.value%2==0?7:5"}}}}}}
},
"layer":[
{"data":{"name":"cells"},"mark":{"type":"rect","x2Offset":0.7,"y2Offset":-0.7,"clip":true},
"encoding":{
"x2":{"field":"e"},
"y2":{"field":"hi"},
"fill":{"field":"vol","type":"quantitative",
"scale":{"domain":[0,3000000,6000000,8050000],"range":["#000000","#ff0000","#ffff00","#ffffff"],"interpolate":"rgb"},
"legend":{"orient":"none","legendX":-86,"legendY":22,"title":"Volume","titleFontStyle":"italic","titleFontWeight":"normal","titleFontSize":15,"titleColor":"#444","titlePadding":1,"gradientLength":248,"gradientThickness":29,"gradientStrokeColor":"#000","gradientStrokeWidth":1,"values":[0,2000000,4000000,6000000,8000000],"labelExpr":"datum.value==0?'0':(datum.value/1000000)+' M'","labelFontSize":13,"labelColor":"#444","labelOffset":14,"labelOverlap":false,"labelBaseline":"middle"}}
}},
{"data":{"name":"price"},"mark":{"type":"line","color":"#3f7fa9","strokeWidth":2.4,"strokeJoin":"round"},"encoding":{}}
]
},
{
"width":1103,"height":214,
"view":{"stroke":"#e6e6e6"},
"encoding":{
"x":{"field":"h","type":"quantitative","scale":{"domain":[3.25,27],"nice":false,"zero":false},
"axis":{"values":[4,8,12,16,20,24],"labelExpr":"datum.value==24?'10/13':datum.value+'h'","title":"Date (UTC)","titleFontStyle":"italic","titleFontWeight":"normal","titleFontSize":15,"titleColor":"#444","titlePadding":9,"labelFontSize":13,"labelColor":"#444","labelPadding":6,"tickColor":"#000","domainColor":"#000","domainWidth":1.5,"tickWidth":1,"tickSize":7,"grid":true,"gridColor":"#e6e6e6","gridWidth":1.5}},
"y":{"field":"v","type":"quantitative","scale":{"domain":[0,1],"nice":false},
"axis":{"values":[0,0.04,0.08,0.12,0.16,0.2,0.24,0.28,0.32,0.36,0.4,0.44,0.48,0.52,0.56,0.6,0.64,0.68,0.72,0.76,0.8,0.84,0.88,0.92,0.96,1],"labelExpr":"datum.value==0?'0':datum.value==1?'1.000':abs(datum.value*5-round(datum.value*5))<0.001?format(datum.value*1000,'.2f')+' m':''","labelOverlap":false,"title":"Normalized CVD [arb. u.]","titleFontStyle":"italic","titleFontWeight":"normal","titleFontSize":17,"titleColor":"#444","titlePadding":4,"titleY":94,"labelFontSize":13,"labelColor":"#444","labelPadding":5,"tickColor":"#000","domainColor":"#000","domainWidth":1.5,"tickWidth":1,"tickSize":8,"grid":false,"encoding":{"ticks":{"update":{"x2":{"signal":"abs(datum.value*5-round(datum.value*5))<0.001?-8:-5"}}}}}}
},
"layer":[
{"data":{"values":[{"v":0.2},{"v":0.4},{"v":0.6},{"v":0.8},{"v":1}]},
"mark":{"type":"rule","color":"#e6e6e6","strokeWidth":1.5},
"encoding":{"x":null}},
{"data":{"values":[{"h":4.09,"v":0.168}]},
"mark":{"type":"point","filled":true,"shape":"M-0.3,-1 L0.3,-1 L0.3,-0.45 L1.1,0.85 Q1.15,1 1,1 L-1,1 Q-1.15,1 -1.1,0.85 L-0.3,-0.45 Z","size":4624,"fill":"#f1f6f8","stroke":"#e4e4e4","strokeWidth":3,"opacity":1},
"encoding":{}},
{"data":{"values":[{"h":5.21,"v":0.245,"label":"MATERIAL"}]},
"mark":{"type":"text","align":"left","baseline":"middle","font":"Liberation Sans","fontWeight":"bold","fontSize":33,"color":"#e2e2e2"},
"encoding":{"text":{"field":"label"}}},
{"data":{"values":[{"h":5.21,"v":0.083,"label":"INDICATORS"}]},
"mark":{"type":"text","align":"left","baseline":"middle","font":"Liberation Sans","fontWeight":"bold","fontSize":30,"color":"#e2e2e2"},
"encoding":{"text":{"field":"label"}}},
{"data":{"name":"cvd"},
"transform":[{"fold":["all","k1","k10","k100","m1"],"as":["series","v"]}],
"mark":{"type":"line","strokeWidth":2.4,"strokeJoin":"round"},
"encoding":{
"color":{"field":"series","type":"nominal","scale":{"domain":["all","k1","k10","k100","m1","m10"],"range":["#1f77b4","#ff7f0e","#2ca02c","#d62728","#9467bd","#8c564b"]},
"legend":{"orient":"none","legendX":-93,"legendY":611,"direction":"horizontal","columns":6,"title":null,"symbolType":"stroke","symbolSize":576,"symbolStrokeWidth":2,"labelFontSize":12,"labelColor":"#444","labelOffset":5,"columnPadding":0,"padding":12,"strokeColor":"#eeeeee","fillColor":"#ffffff","labelExpr":"({'all':'all orders','k1':'$100 < i < $1k','k10':'$1k < i < $10k','k100':'$10k < i < $100k','m1':'$100k < i < $1M','m10':'$1M < i < $10M'})[datum.label]"}}
}},
{"data":{"values":[{"h":19.06,"v":0.915,"label":"곰지네 트레이딩 CVD"}]},
"mark":{"type":"text","font":"Noto Sans CJK KR","fontSize":27,"color":"#000","align":"center","baseline":"middle"},
"encoding":{"text":{"field":"label"}}},
{"data":{"values":[{"h":18.67,"v":0.78,"label":"Powered By Material Indictors"},{"h":24.68,"v":-0.405,"label":"https://t.me/oddstrading2"}]},
"mark":{"type":"text","font":"Noto Sans CJK KR","fontSize":25.8,"color":"#000","align":"center","baseline":"middle"},
"encoding":{"text":{"field":"label"}}}
]
}
],
"spacing":12
}
